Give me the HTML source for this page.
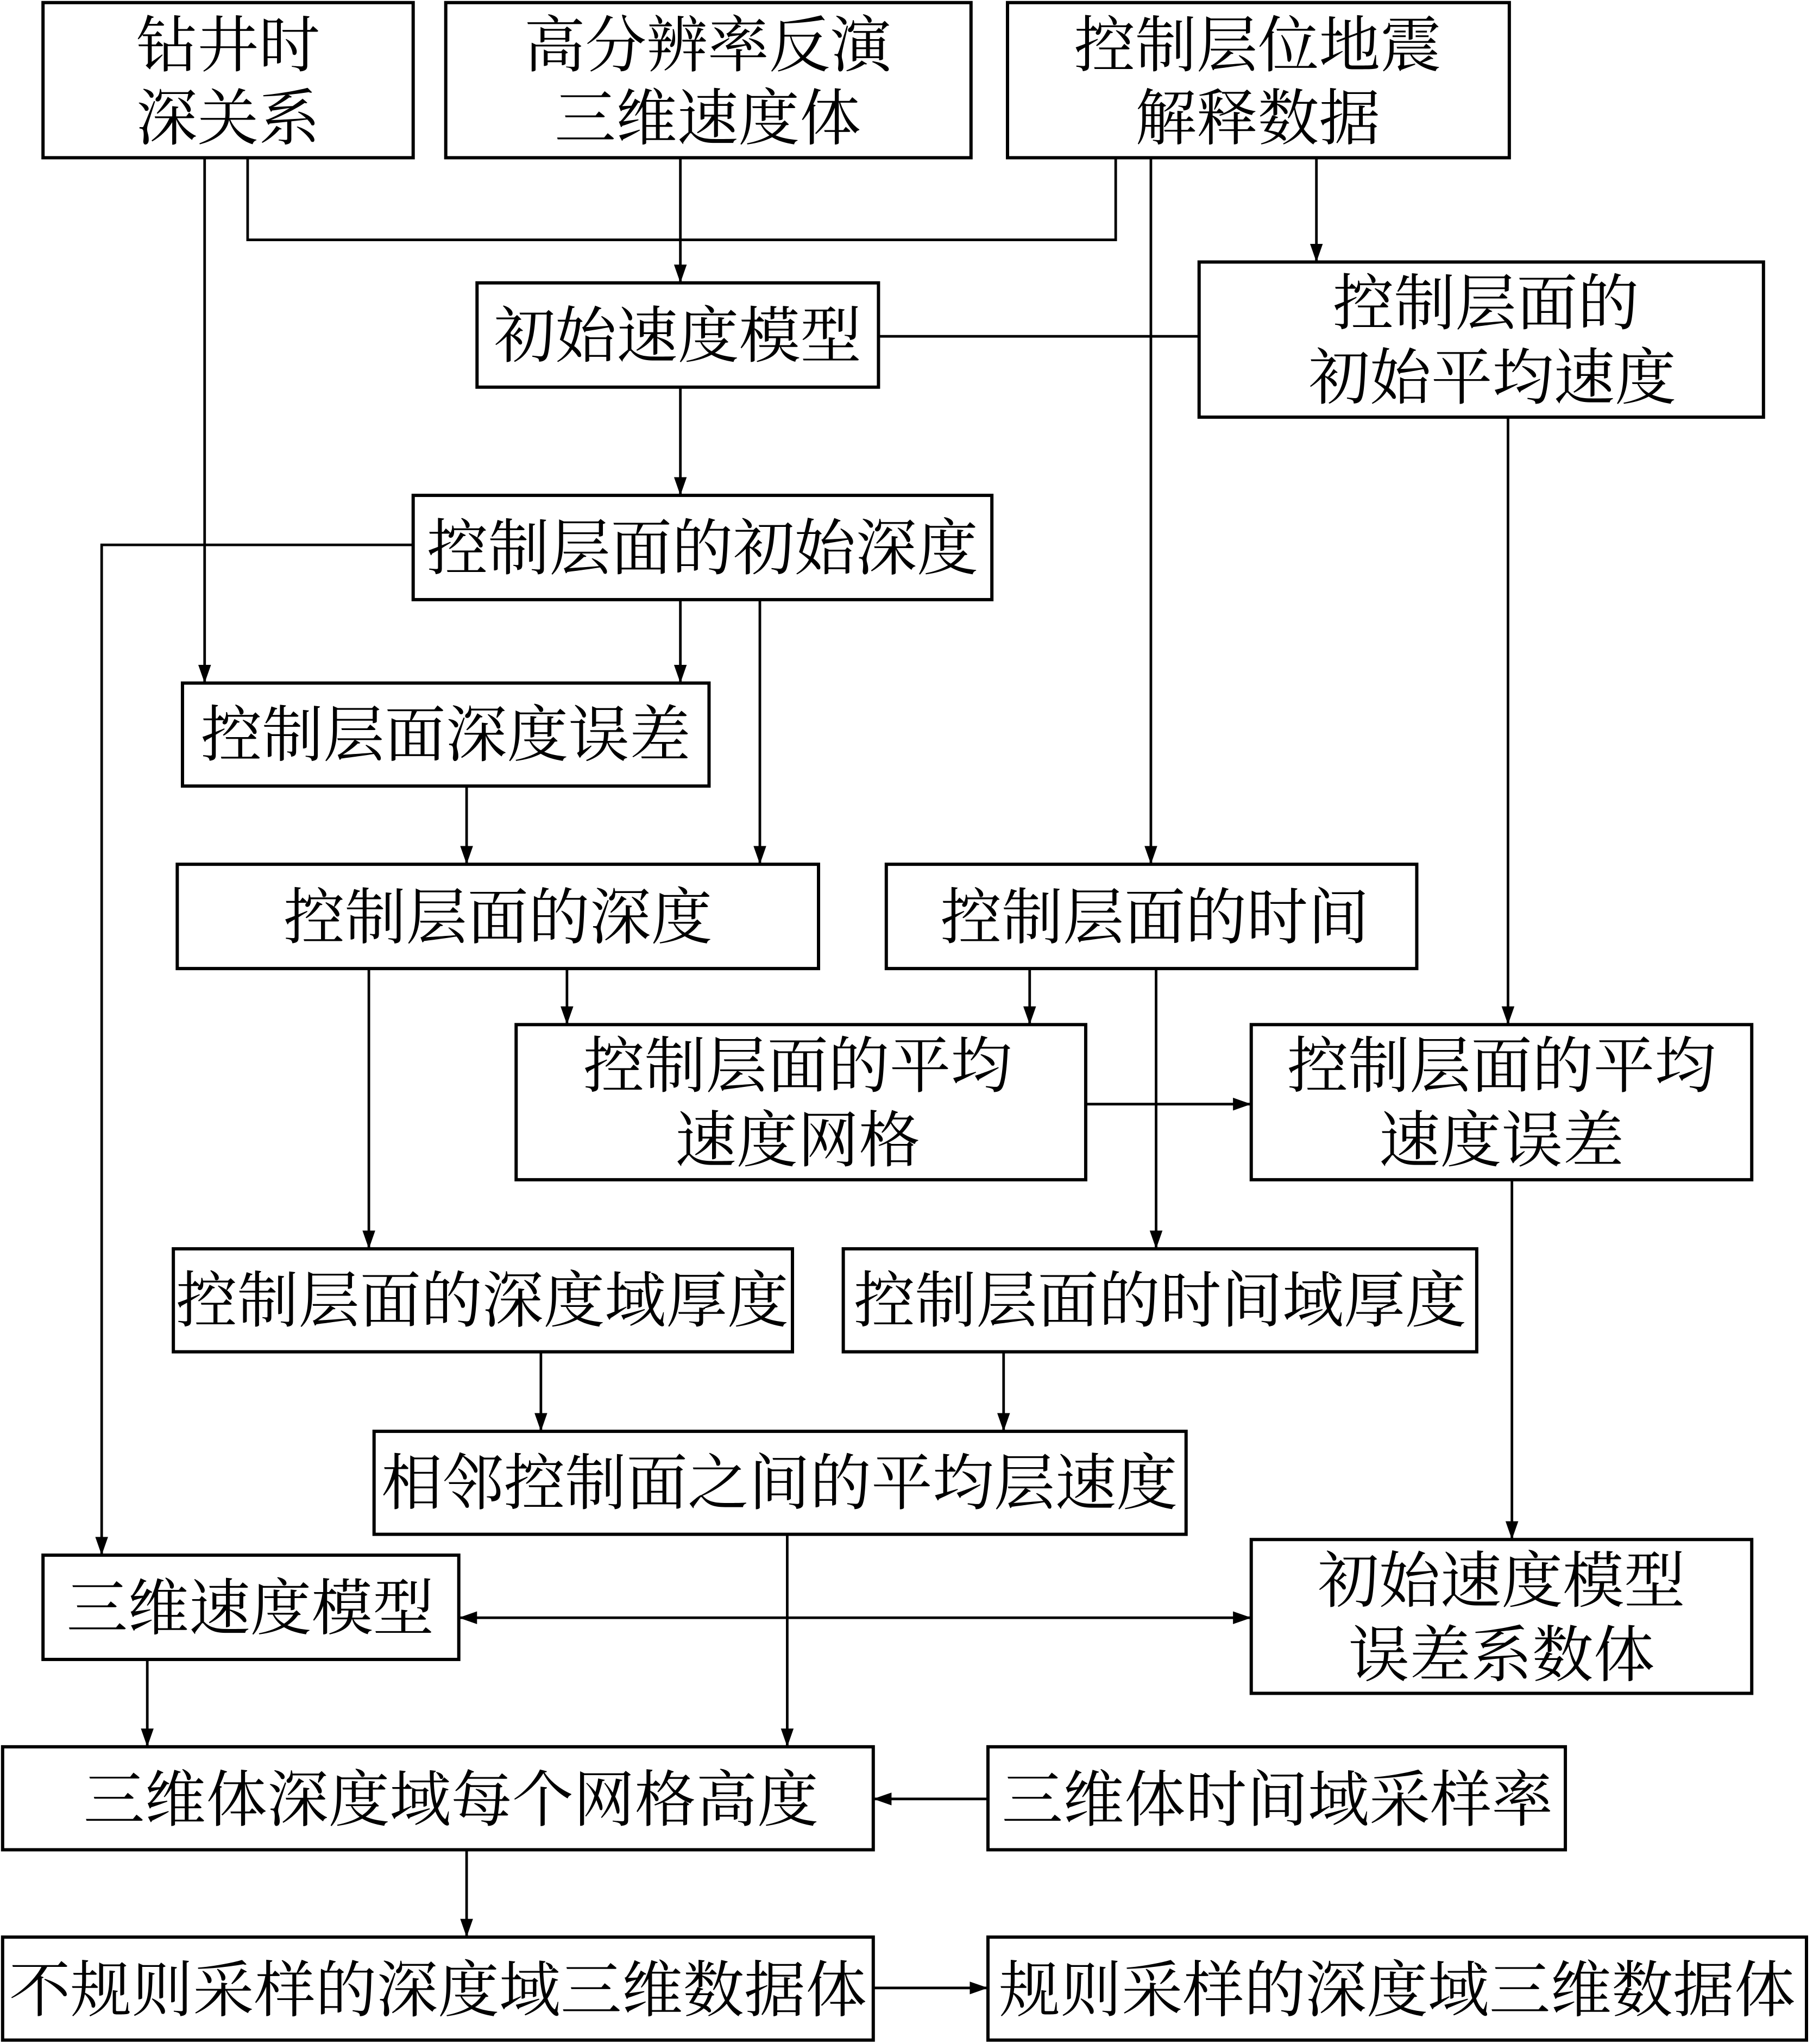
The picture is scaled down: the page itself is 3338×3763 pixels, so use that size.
<!DOCTYPE html>
<html><head><meta charset="utf-8"><style>html,body{margin:0;padding:0;background:#fff}svg{display:block}</style></head>
<body>
<svg width="3338" height="3763" viewBox="0 0 1391 1568" preserveAspectRatio="none" xmlns="http://www.w3.org/2000/svg">
<defs><marker id="a" viewBox="0 0 10 10" refX="10" refY="5" markerWidth="14" markerHeight="14" markerUnits="userSpaceOnUse" orient="auto-start-reverse"><path d="M0,1.5 L10,5 L0,8.5 Z" fill="#000"/></marker></defs>
<g fill="#fff" stroke="#000" stroke-width="2.5">
<rect x="33" y="2" width="284" height="119"/>
<rect x="342" y="2" width="403" height="119"/>
<rect x="773" y="2" width="385" height="119"/>
<rect x="366" y="217" width="308" height="80"/>
<rect x="920" y="201" width="433" height="119"/>
<rect x="317" y="380" width="444" height="80"/>
<rect x="140" y="524" width="404" height="79"/>
<rect x="136" y="663" width="492" height="80"/>
<rect x="680" y="663" width="407" height="80"/>
<rect x="396" y="786" width="437" height="119"/>
<rect x="960" y="786" width="384" height="119"/>
<rect x="133" y="958" width="475" height="79"/>
<rect x="647" y="958" width="486" height="79"/>
<rect x="287" y="1098" width="623" height="79"/>
<rect x="33" y="1193" width="319" height="80"/>
<rect x="960" y="1181" width="384" height="118"/>
<rect x="2" y="1340" width="668" height="79"/>
<rect x="758" y="1340" width="443" height="79"/>
<rect x="2" y="1486" width="668" height="79"/>
<rect x="758" y="1486" width="628" height="79"/>
</g>
<g fill="none" stroke="#000" stroke-width="2">
<path d="M157,121 V524" marker-end="url(#a)"/>
<path d="M190,121 V184 H856 V121"/>
<path d="M522,121 V217" marker-end="url(#a)"/>
<path d="M883,121 V663" marker-end="url(#a)"/>
<path d="M1010,121 V201" marker-end="url(#a)"/>
<path d="M674,258 H920"/>
<path d="M522,297 V380" marker-end="url(#a)"/>
<path d="M1157,320 V786" marker-end="url(#a)"/>
<path d="M317,418 H78 V1193" marker-end="url(#a)"/>
<path d="M522,460 V524" marker-end="url(#a)"/>
<path d="M583,460 V663" marker-end="url(#a)"/>
<path d="M358,603 V663" marker-end="url(#a)"/>
<path d="M283,743 V958" marker-end="url(#a)"/>
<path d="M435,743 V786" marker-end="url(#a)"/>
<path d="M790,743 V786" marker-end="url(#a)"/>
<path d="M887,743 V958" marker-end="url(#a)"/>
<path d="M833,847 H960" marker-end="url(#a)"/>
<path d="M1160,905 V1181" marker-end="url(#a)"/>
<path d="M415,1037 V1098" marker-end="url(#a)"/>
<path d="M770,1037 V1098" marker-end="url(#a)"/>
<path d="M604,1177 V1340" marker-end="url(#a)"/>
<path d="M352,1241 H960" marker-start="url(#a)" marker-end="url(#a)"/>
<path d="M113,1273 V1340" marker-end="url(#a)"/>
<path d="M758,1380 H670" marker-end="url(#a)"/>
<path d="M358,1419 V1486" marker-end="url(#a)"/>
<path d="M670,1525 H758" marker-end="url(#a)"/>
</g>
<g font-family="'Liberation Serif','Noto Serif CJK SC',serif" font-size="47" text-anchor="middle" fill="#000">
<text x="175" y="51">钻井时</text><text x="175" y="107">深关系</text>
<text x="543" y="51">高分辨率反演</text><text x="543" y="107">三维速度体</text>
<text x="965" y="51">控制层位地震</text><text x="965" y="107">解释数据</text>
<text x="520" y="274">初始速度模型</text>
<text x="1140" y="249">控制层面的</text><text x="1145" y="306">初始平均速度</text>
<text x="539" y="437">控制层面的初始深度</text>
<text x="342" y="580">控制层面深度误差</text>
<text x="382" y="720">控制层面的深度</text>
<text x="886" y="720">控制层面的时间</text>
<text x="612" y="834">控制层面的平均</text><text x="612" y="891">速度网格</text>
<text x="1152" y="834">控制层面的平均</text><text x="1152" y="891">速度误差</text>
<text x="370" y="1014">控制层面的深度域厚度</text>
<text x="890" y="1014">控制层面的时间域厚度</text>
<text x="598" y="1154">相邻控制面之间的平均层速度</text>
<text x="192" y="1250">三维速度模型</text>
<text x="1152" y="1229">初始速度模型</text><text x="1152" y="1286">误差系数体</text>
<text x="346" y="1397">三维体深度域每个网格高度</text>
<text x="980" y="1397">三维体时间域采样率</text>
<text x="336" y="1543">不规则采样的深度域三维数据体</text>
<text x="1072" y="1543">规则采样的深度域三维数据体</text>
</g>
</svg>
</body></html>
